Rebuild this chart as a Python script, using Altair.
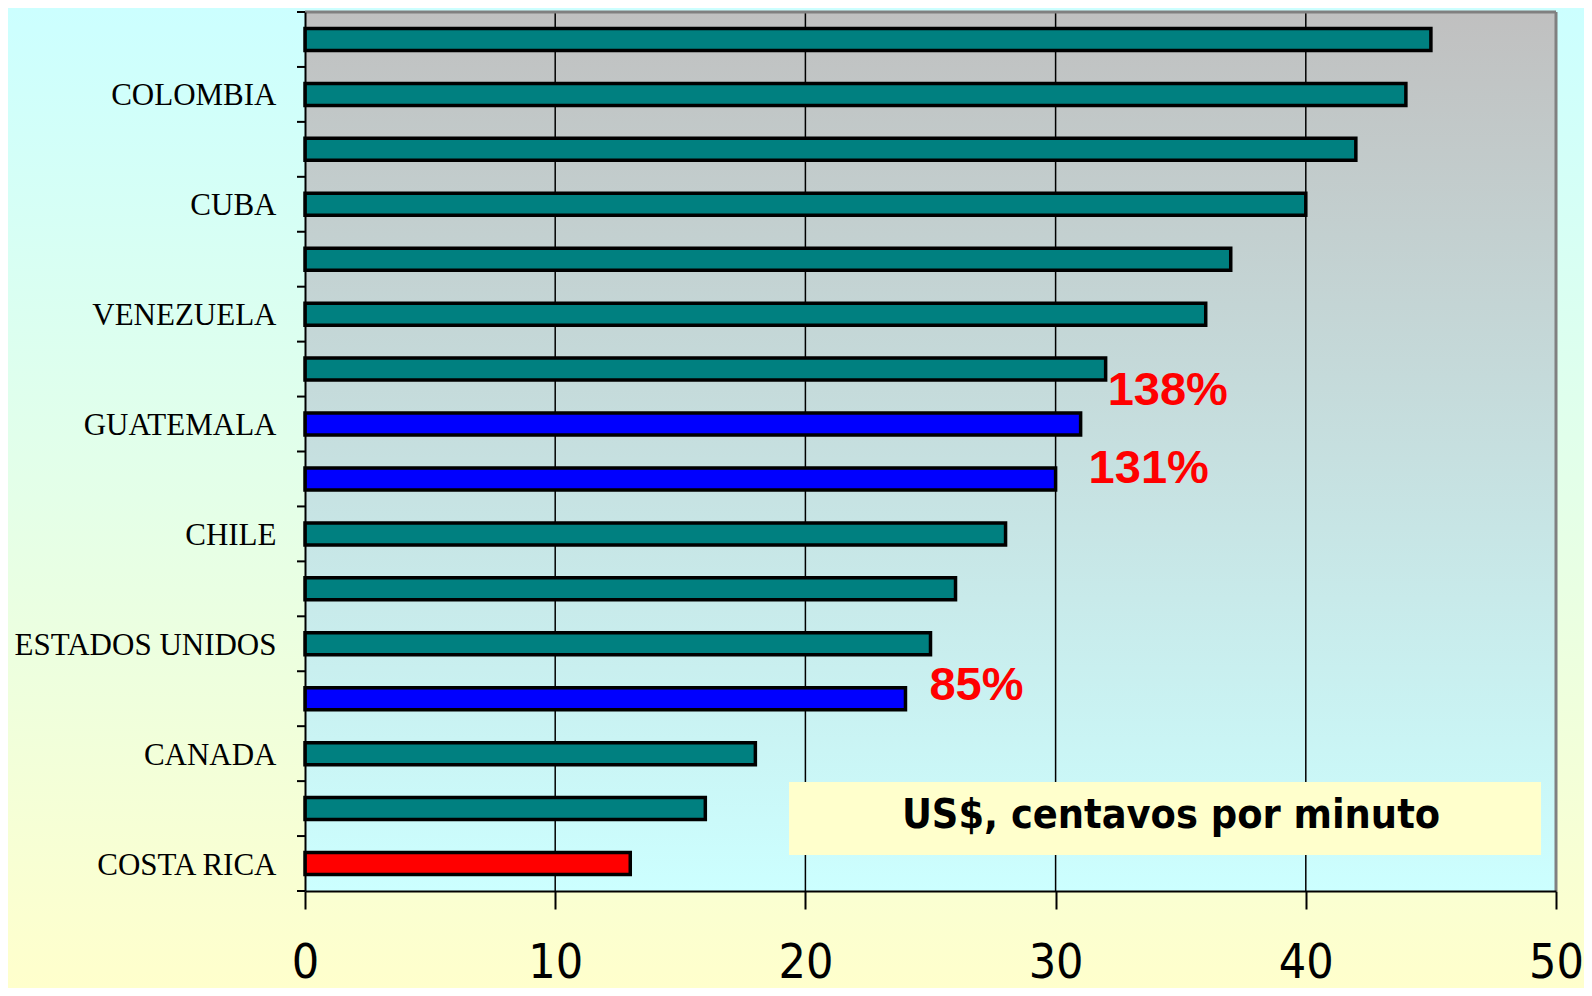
import json
import altair as alt
import pandas as pd

# ---- data ----
paises = ["", "COLOMBIA", "", "CUBA", "", "VENEZUELA", "", "GUATEMALA", "",
          "CHILE", "", "ESTADOS UNIDOS", "", "CANADA", "", "COSTA RICA"]
valores = [45, 44, 42, 40, 37, 36, 32, 31, 30, 28, 26, 25, 24, 18, 16, 13]
grupos = ["otro"] * 7 + ["dest", "dest"] + ["otro"] * 3 + ["dest"] + ["otro"] * 2 + ["cr"]
ticks_x = [0, 10, 20, 30, 40, 50]
grid_x = [10, 20, 30, 40]
anot_texto = ["138%", "131%", "85%"]
anot_fila = [7, 9, 13]

W, H = 1251, 879
PAD_L, PAD_T = 297, 4
CW, CH = 1576, 980
NARROW = "DejaVu Sans Condensed, Liberation Sans Narrow, Arial Narrow, Liberation Sans"

df = pd.DataFrame({
    "orden": list(range(1, len(valores) + 1)),
    "pais": paises,
    "valor": valores,
    "grupo": grupos,
})
df_anot = pd.DataFrame({
    "texto": anot_texto,
    "orden": anot_fila,
    "valor": [valores[f - 1] for f in anot_fila],
})
df_grid = pd.DataFrame({"g": grid_x})

label_arr = json.dumps(paises)
y_axis = alt.Axis(
    title=None, ticks=False, domain=True, domainColor="black", domainWidth=2,
    labelExpr=f"{label_arr}[datum.value - 1]", labelFont="Liberation Serif",
    labelFontSize=31, labelColor="black", labelPadding=29, zindex=1,
    labelLimit=400, labelOffset=2,
)
y_scale = alt.Scale(paddingInner=0, paddingOuter=0)
x_axis = alt.Axis(
    title=None, values=ticks_x, grid=False, domainColor="black", domainWidth=2,
    tickColor="black", tickWidth=2, tickSize=18,
    labelFont=NARROW, labelFontSize=48, labelColor="black",
    labelPadding=30, zindex=1, labelFlush=False,
)
x_scale = alt.Scale(domain=[0, 50], nice=False, zero=True)

def Y(**kw):
    return alt.Y("orden:O", axis=y_axis, scale=y_scale, **kw)

def X(field="valor:Q"):
    return alt.X(field, axis=x_axis, scale=x_scale)

one = alt.Data(values=[{}])

page_bg = alt.Chart(one).mark_rect(
    fill={"gradient": "linear", "x1": 0, "y1": 0, "x2": 0, "y2": 1,
          "stops": [{"offset": 0, "color": "#CCFFFF"},
                    {"offset": 0.5, "color": "#E4FFE8"},
                    {"offset": 1, "color": "#FFFFCC"}]}
).encode(x=alt.value(-PAD_L), x2=alt.value(CW - PAD_L),
         y=alt.value(-PAD_T), y2=alt.value(CH - PAD_T))

plot_bg = alt.Chart(one).mark_rect(
    fill={"gradient": "linear", "x1": 0, "y1": 0, "x2": 0, "y2": 1,
          "stops": [{"offset": 0, "color": "#C0C0C0"},
                    {"offset": 1, "color": "#CCFFFF"}]}
).encode(x=alt.value(0), x2=alt.value(W), y=alt.value(0), y2=alt.value(H))

grid = alt.Chart(df_grid).mark_rule(color="black", strokeWidth=1.5).encode(
    x=X("g:Q"), y=alt.value(0), y2=alt.value(H)
)

bars = alt.Chart(df).mark_bar(size=22, stroke="black", strokeWidth=3.5).encode(
    y=Y(),
    x=X(),
    color=alt.Color("grupo:N", legend=None,
                    scale=alt.Scale(domain=["otro", "dest", "cr"],
                                    range=["#008080", "#0000FF", "#FF0000"])),
)

ytick = alt.Chart(df).mark_rule(color="black", strokeWidth=2).encode(
    y=Y(bandPosition=0), x=alt.value(-8), x2=alt.value(0)
)
ytick_last = alt.Chart(one).mark_rule(color="black", strokeWidth=2).encode(
    y=alt.value(H), x=alt.value(-8), x2=alt.value(0)
)

anot_layers = []
offs = [(2, 22), (33, -10), (24, -13)]
for i, (dx, dy) in enumerate(offs):
    anot_layers.append(
        alt.Chart(df_anot.iloc[[i]]).mark_text(
            align="left", baseline="middle", dx=dx, dy=dy, color="#FF0000",
            font="Liberation Sans", fontWeight="bold", fontSize=47,
        ).encode(x=X(), y=Y(), text="texto:N")
    )

box = alt.Chart(one).mark_rect(fill="#FFFFCC").encode(
    x=alt.value(484), x2=alt.value(1236), y=alt.value(770), y2=alt.value(843)
)
box_text = alt.Chart(one).mark_text(
    text="US$, centavos por minuto", font=NARROW,
    fontWeight="bold", fontSize=41, color="black", align="center",
    baseline="middle",
).encode(x=alt.value(866), y=alt.value(804))

border_top = alt.Chart(one).mark_rule(color="#808080", strokeWidth=3).encode(
    x=alt.value(0), x2=alt.value(W), y=alt.value(0)
)
border_right = alt.Chart(one).mark_rule(color="#808080", strokeWidth=3).encode(
    x=alt.value(W), y=alt.value(0), y2=alt.value(H)
)

chart = alt.layer(
    page_bg, plot_bg, grid, bars, *anot_layers, box, box_text,
    border_top, border_right, ytick, ytick_last,
).properties(
    width=W, height=H,
    autosize=alt.AutoSizeParams(type="none"),
    padding={"left": PAD_L, "top": PAD_T, "right": CW - PAD_L - W,
             "bottom": CH - PAD_T - H},
    background="#FFFFFF",
).configure_view(stroke=None)

chart.save("out.html", embed_options={"renderer": "svg", "actions": False})
